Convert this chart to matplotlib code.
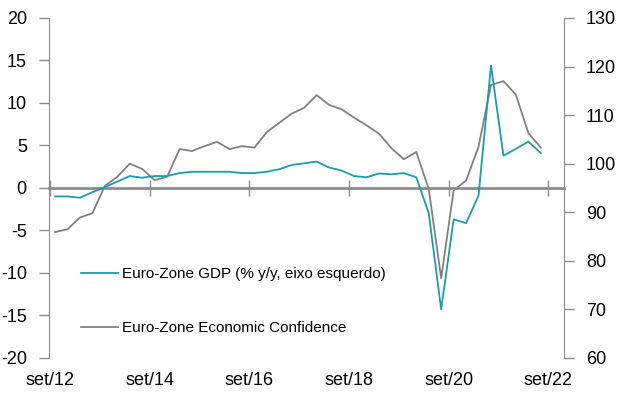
import matplotlib.pyplot as plt
import numpy as np

plt.rcParams['font.family'] = ['Liberation Sans', 'DejaVu Sans']
plt.rcParams['axes.unicode_minus'] = False

# quarterly observations, first one just after set/12
gdp = [-1.0, -1.0, -1.15, -0.5, 0.1, 0.75, 1.4, 1.2, 1.4, 1.4,
       1.75, 1.9, 1.9, 1.9, 1.9, 1.75, 1.75, 1.9, 2.2, 2.7,
       2.9, 3.1, 2.4, 2.05, 1.4, 1.25, 1.7, 1.6, 1.75, 1.25,
       -2.95, -14.3, -3.7, -4.15, -0.9, 14.4, 3.8, 4.6, 5.45, 4.1]
conf = [85.9, 86.5, 88.9, 89.8, 95.4, 97.3, 100.0, 98.9, 96.6, 97.3,
        103.0, 102.6, 103.6, 104.5, 103.0, 103.6, 103.3, 106.5, 108.4, 110.3,
        111.5, 114.1, 112.1, 111.2, 109.5, 107.9, 106.2, 103.2, 100.9, 102.4,
        94.8, 76.4, 94.5, 96.5, 103.5, 116.2, 117.0, 114.2, 106.3, 103.3]
tick_labels = ['set/12', 'set/14', 'set/16', 'set/18', 'set/20', 'set/22']

gdp_label = 'Euro-Zone GDP (% y/y, eixo esquerdo)'
conf_label = 'Euro-Zone Economic Confidence'

teal = '#1a9bb0'
grey = '#808080'
axc = '#8c8c8c'

x = np.arange(len(gdp)) + 0.4
xt = np.arange(0, 41, 8)

fig = plt.figure(figsize=(6.21, 3.99), dpi=100)
ax = fig.add_axes([0.079, 0.103, 0.829, 0.852])
ax2 = ax.twinx()

l1, = ax.plot(x, gdp, color=teal, lw=1.3, zorder=3)
l2, = ax2.plot(x, conf, color=grey, lw=1.3)
ax.set_zorder(ax2.get_zorder() + 1)
ax.patch.set_visible(False)

ax.set_ylim(-20, 20)
ax.set_yticks(np.arange(-20, 21, 5))
ax2.set_ylim(60, 130)
ax2.set_yticks(np.arange(60, 131, 10))
ax.set_xlim(-0.08, 41.25)
ax.set_xticks(xt)
ax.set_xticklabels(tick_labels)

for a in (ax, ax2):
    for s in ('top', 'bottom'):
        a.spines[s].set_visible(False)
ax.spines['right'].set_visible(False)
ax2.spines['left'].set_visible(False)
ax.spines['left'].set_color(axc)
ax2.spines['right'].set_color(axc)

ax.tick_params(axis='y', direction='out', length=7, width=1, color=axc,
               labelsize=13, pad=9)
ax2.tick_params(axis='y', direction='out', length=7, width=1, color=axc,
                labelsize=13, pad=9)
ax.tick_params(axis='x', length=0, labelsize=13, pad=10)

# zero line with date ticks
zx = ax.secondary_xaxis(0.5)
zx.set_xticks(xt)
zx.set_xticklabels([])
zx.tick_params(axis='x', direction='inout', length=11, width=1, color=axc)
for s in zx.spines.values():
    s.set_color(axc)
    s.set_linewidth(2)

ax.legend([l1, l2], [gdp_label, conf_label], loc='upper left',
          bbox_to_anchor=(0.05, 0.285), frameon=False, fontsize=11,
          handlelength=2.4, handletextpad=0.3, labelspacing=2.6,
          borderaxespad=0)

fig.savefig('out.png', dpi=100)
